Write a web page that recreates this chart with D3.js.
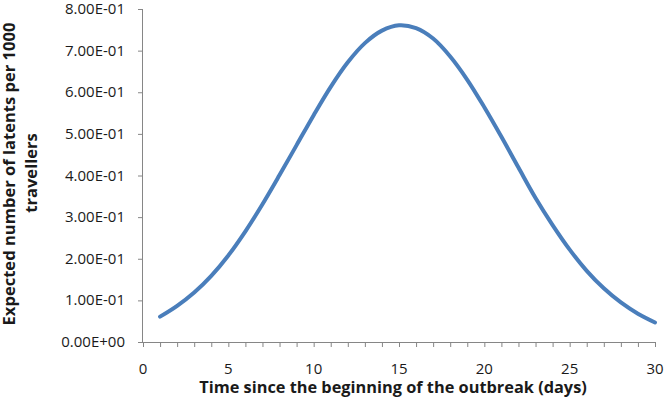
<!DOCTYPE html>
<html>
<head>
<meta charset="utf-8">
<script src="https://d3js.org/d3.v7.min.js"></script>
<style>
  body { margin: 0; background: #fff; }
  text { font-family: "Open Sans", "Liberation Sans", sans-serif; fill: #1a1a1a; }
  .axis path, .axis line { stroke: #868686; }
</style>
</head>
<body>
<div id="chart"></div>
<script>
// days since outbreak start
var days = [1, 2, 3, 4, 5, 6, 7, 8, 9, 10, 11, 12, 13, 14, 15,
            16, 17, 18, 19, 20, 21, 22, 23, 24, 25, 26, 27, 28, 29, 30];
// expected latents per 1000 travellers
var latents = [0.061, 0.087, 0.119, 0.159, 0.208, 0.266, 0.331, 0.401, 0.473, 0.545,
               0.613, 0.672, 0.718, 0.748, 0.761, 0.754, 0.729, 0.686, 0.630, 0.564,
               0.493, 0.419, 0.346, 0.281, 0.222, 0.171, 0.129, 0.095, 0.068, 0.047];
var xTicks = [0, 5, 10, 15, 20, 25, 30];
var yTicks = [0, 0.1, 0.2, 0.3, 0.4, 0.5, 0.6, 0.7, 0.8];

var W = 666, H = 400;
var margin = {top: 9, right: 11, bottom: 58, left: 143};

var svg = d3.select("#chart").append("svg")
    .attr("width", W)
    .attr("height", H);

var x = d3.scaleLinear().domain([0, 30]).range([margin.left, W - margin.right]);
var y = d3.scaleLinear().domain([0, 0.8]).range([H - margin.bottom, margin.top]);

// scientific labels like Excel: 8.00E-01
function sci(v) {
  if (v === 0) return "0.00E+00";
  var s = v.toExponential(2).toUpperCase();
  return s.replace(/E([+-])(\d)$/, "E$10$2");
}

// minor ticks on x every day
svg.append("g")
    .attr("class", "axis")
    .attr("transform", "translate(0," + y(0) + ")")
    .call(d3.axisBottom(x).tickValues(d3.range(0, 31)).tickSize(5).tickFormat(""))
    .call(function(g) { g.select(".domain").attr("d", "M" + x(0) + ",0.5H" + x(30)); });

// x labels
svg.append("g")
    .selectAll("text")
    .data(xTicks)
    .enter()
    .append("text")
    .attr("x", function(d) { return x(d); })
    .attr("y", y(0) + 32)
    .attr("text-anchor", "middle")
    .style("font-size", "15px")
    .text(function(d) { return d; });

// y axis
svg.append("g")
    .attr("class", "axis")
    .attr("transform", "translate(" + x(0) + ",0)")
    .call(d3.axisLeft(y).tickValues(yTicks).tickSize(5).tickFormat(""))
    .call(function(g) { g.select(".domain").attr("d", "M-0.5," + y(0.8) + "V" + y(0)); });

svg.append("g")
    .selectAll("text")
    .data(yTicks)
    .enter()
    .append("text")
    .attr("x", x(0) - 18)
    .attr("y", function(d) { return y(d) + 5; })
    .attr("text-anchor", "end")
    .style("font-size", "15px")
    .text(function(d) { return sci(d); });

// the curve
var line = d3.line()
    .x(function(d, i) { return x(days[i]); })
    .y(function(d) { return y(d); })
    .curve(d3.curveCatmullRom);

svg.append("path")
    .datum(latents)
    .attr("fill", "none")
    .attr("stroke", "#4a7ebb")
    .attr("stroke-width", 4)
    .attr("stroke-linecap", "round")
    .attr("d", line);

// fit bold text to a target width
function fit(sel, width) {
  var w = sel.node().getComputedTextLength();
  var fs = parseFloat(sel.style("font-size"));
  sel.style("font-size", (fs * width / w) + "px");
}

var xt = svg.append("text")
    .attr("x", 393)
    .attr("y", 393)
    .attr("text-anchor", "middle")
    .style("font-size", "15px")
    .style("font-weight", "bold")
    .text("Time since the beginning of the outbreak (days)");
fit(xt, 388);

var yt1 = svg.append("text")
    .attr("transform", "translate(15,174) rotate(-90)")
    .attr("text-anchor", "middle")
    .style("font-size", "15px")
    .style("font-weight", "bold")
    .text("Expected number of latents per 1000");
fit(yt1, 303);

var yt2 = svg.append("text")
    .attr("transform", "translate(37,173) rotate(-90)")
    .attr("text-anchor", "middle")
    .style("font-size", yt1.style("font-size"))
    .style("font-weight", "bold")
    .text("travellers");
</script>
</body>
</html>
